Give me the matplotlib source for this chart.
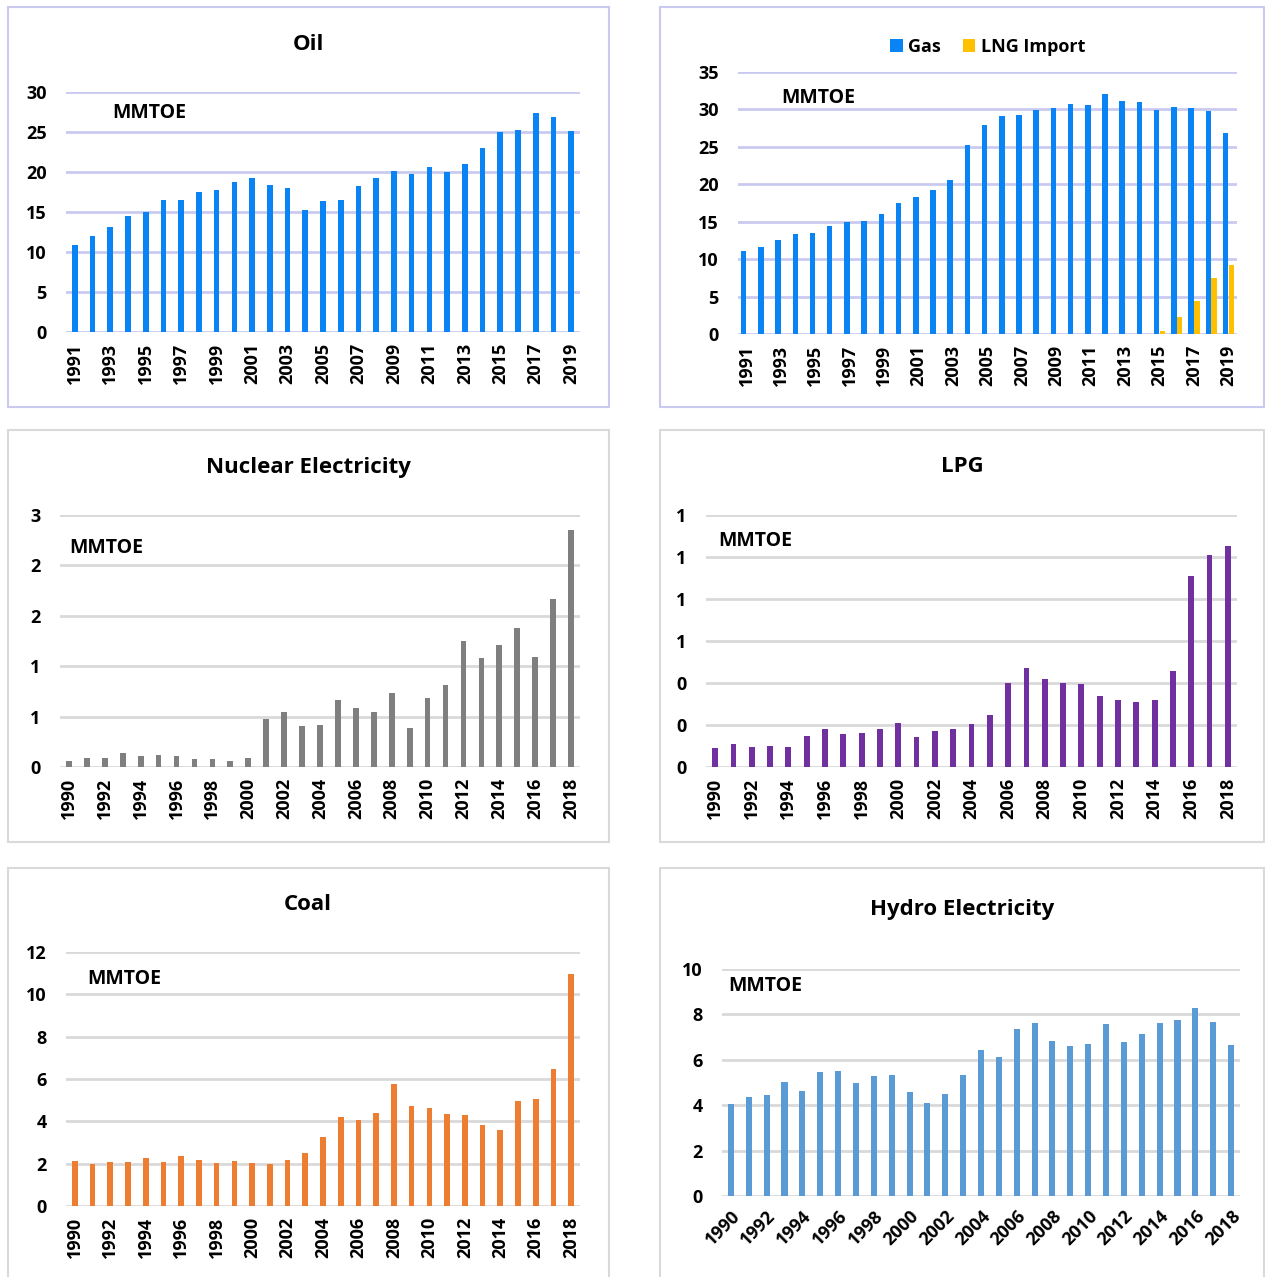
import matplotlib
matplotlib.use('Agg')
import matplotlib.pyplot as plt
from matplotlib.patches import Rectangle
import numpy as np

plt.rcParams['font.family'] = ['Open Sans', 'DejaVu Sans']
plt.rcParams['font.weight'] = 'bold'

# ---- data ----
oil_years = list(range(1991, 2020))
oil = [10.85, 12.06, 13.14, 14.52, 14.98, 16.44, 16.56, 17.44, 17.81, 18.73,
       19.27, 18.36, 18.02, 15.23, 16.35, 16.44, 18.19, 19.19, 20.11, 19.78,
       20.65, 19.94, 20.94, 22.99, 24.99, 25.24, 27.37, 26.87, 25.11]

gas_years = list(range(1991, 2020))
gas = [11.04, 11.58, 12.56, 13.40, 13.54, 14.38, 15.00, 15.05, 16.07, 17.45,
       18.34, 19.19, 20.53, 25.20, 27.87, 29.16, 29.30, 29.88, 30.23, 30.77,
       30.63, 32.01, 31.12, 30.94, 29.92, 30.37, 30.19, 29.79, 26.80]
lng = [0] * 24 + [0.36, 2.30, 4.36, 7.48, 9.17]

years = list(range(1990, 2019))
nuclear = [0.063, 0.089, 0.092, 0.135, 0.112, 0.116, 0.109, 0.079, 0.083, 0.063,
           0.092, 0.472, 0.542, 0.410, 0.413, 0.664, 0.588, 0.542, 0.733, 0.383,
           0.687, 0.812, 1.252, 1.083, 1.209, 1.380, 1.096, 1.668, 2.355]
lpg = [0.092, 0.109, 0.095, 0.101, 0.094, 0.146, 0.182, 0.155, 0.162, 0.179,
       0.208, 0.143, 0.173, 0.181, 0.205, 0.250, 0.401, 0.471, 0.417, 0.401,
       0.396, 0.338, 0.320, 0.309, 0.320, 0.457, 0.908, 1.008, 1.054]
coal = [2.12, 1.99, 2.07, 2.10, 2.27, 2.07, 2.34, 2.15, 2.02, 2.13,
        2.04, 1.99, 2.19, 2.51, 3.28, 4.22, 4.04, 4.41, 5.78, 4.72,
        4.61, 4.34, 4.28, 3.85, 3.57, 4.94, 5.04, 6.47, 10.94]
hydro = [4.04, 4.34, 4.45, 5.04, 4.62, 5.45, 5.52, 4.98, 5.27, 5.35,
         4.59, 4.09, 4.51, 5.33, 6.42, 6.11, 7.36, 7.61, 6.85, 6.61,
         6.69, 7.58, 6.80, 7.13, 7.61, 7.75, 8.26, 7.67, 6.66]

nuclear_ticks = [0, 0.5, 1.0, 1.5, 2.0, 2.5]
nuclear_tick_labels = ['0', '1', '1', '2', '2', '3']
lpg_ticks = [0, 0.2, 0.4, 0.6, 0.8, 1.0, 1.2]
lpg_tick_labels = ['0', '0', '0', '1', '1', '1', '1']

W, H = 1265, 1277
fig = plt.figure(figsize=(W / 100, H / 100), dpi=100)

LAV = '#CACAF0'
GRAY = '#D9D9D9'


def box(x0, y0, x1, y1, color):
    fig.patches.append(Rectangle((x0 / W, 1 - y1 / H), (x1 - x0) / W, (y1 - y0) / H,
                                 transform=fig.transFigure, fill=False,
                                 edgecolor=color, linewidth=1.5))


def make_ax(x0, y0, x1, y1, grid_color, ymax, ticks, labels=None):
    ax = fig.add_axes([x0 / W, 1 - y1 / H, (x1 - x0) / W, (y1 - y0) / H])
    for s in ax.spines.values():
        s.set_visible(False)
    ax.set_ylim(0, ymax)
    ax.set_yticks(ticks)
    if labels is not None:
        ax.set_yticklabels(labels)
    ax.grid(axis='y', color=grid_color, linewidth=2)
    ax.set_axisbelow(True)
    ax.tick_params(length=0, labelsize=13, pad=8)
    ax.tick_params(axis='y', pad=14)
    ax.patch.set_alpha(0)
    return ax


def year_ticks(ax, yrs, rot=90):
    idx = np.arange(len(yrs))
    ax.set_xlim(-0.5, len(yrs) - 0.5)
    ax.set_xticks(idx[::2])
    if rot == 90:
        ax.set_xticklabels([str(y) for y in yrs[::2]], rotation=90)
    else:
        ax.set_xticklabels([str(y) for y in yrs[::2]], rotation=45,
                           ha='right', rotation_mode='anchor')


def mmtoe(x, y):
    fig.text(x / W, 1 - y / H, 'MMTOE', fontsize=14, fontweight='bold',
             va='center', ha='left')


def title(x, y, s):
    fig.text(x / W, 1 - y / H, s, fontsize=16, fontweight='bold',
             va='center', ha='center')


# Oil
box(8, 7, 609, 407, LAV)
ax = make_ax(66, 92, 580, 332, LAV, 30, range(0, 31, 5))
ax.bar(np.arange(len(oil)), oil, width=0.32, color='#0A84F5')
year_ticks(ax, oil_years)
title(308, 45, 'Oil')
mmtoe(112, 113)

# Gas + LNG
box(660, 7, 1264, 407, LAV)
ax = make_ax(738, 72, 1237, 334, LAV, 35, range(0, 36, 5))
idx = np.arange(len(gas))
ax.bar(idx - 0.17, gas, width=0.32, color='#0A84F5', label='Gas')
ax.bar(idx + 0.17, lng, width=0.32, color='#FFC000', label='LNG Import')
year_ticks(ax, gas_years)
ax.legend(loc='lower center', bbox_to_anchor=(0.5, 1.0), ncol=2, frameon=False,
          handlelength=0.7, handleheight=0.7, handletextpad=0.3, columnspacing=1.2,
          prop={'size': 13, 'weight': 'bold'})
mmtoe(781, 98)

# Nuclear
box(8, 430, 609, 842, GRAY)
ax = make_ax(60, 515, 580, 767, GRAY, 2.5, nuclear_ticks, nuclear_tick_labels)
ax.bar(np.arange(len(nuclear)), nuclear, width=0.32, color='#7F7F7F')
year_ticks(ax, years)
title(308, 467, 'Nuclear Electricity')
mmtoe(69, 548)

# LPG
box(660, 430, 1264, 842, GRAY)
ax = make_ax(706, 515, 1237, 767, GRAY, 1.2, lpg_ticks, lpg_tick_labels)
ax.bar(np.arange(len(lpg)), lpg, width=0.32, color='#7030A0')
year_ticks(ax, years)
title(962, 467, 'LPG')
mmtoe(718, 541)

# Coal
box(8, 868, 609, 1285, GRAY)
ax = make_ax(66, 952, 580, 1206, GRAY, 12, range(0, 13, 2))
ax.bar(np.arange(len(coal)), coal, width=0.32, color='#ED7D31')
year_ticks(ax, years)
title(308, 905, 'Coal')
mmtoe(87, 979)

# Hydro
box(660, 868, 1264, 1285, GRAY)
ax = make_ax(722, 969, 1240, 1196, GRAY, 10, range(0, 11, 2))
ax.bar(np.arange(len(hydro)), hydro, width=0.34, color='#5B9BD5')
year_ticks(ax, years, rot=45)
title(962, 909, 'Hydro Electricity')
mmtoe(728, 986)

fig.savefig('out.png', dpi=100)
